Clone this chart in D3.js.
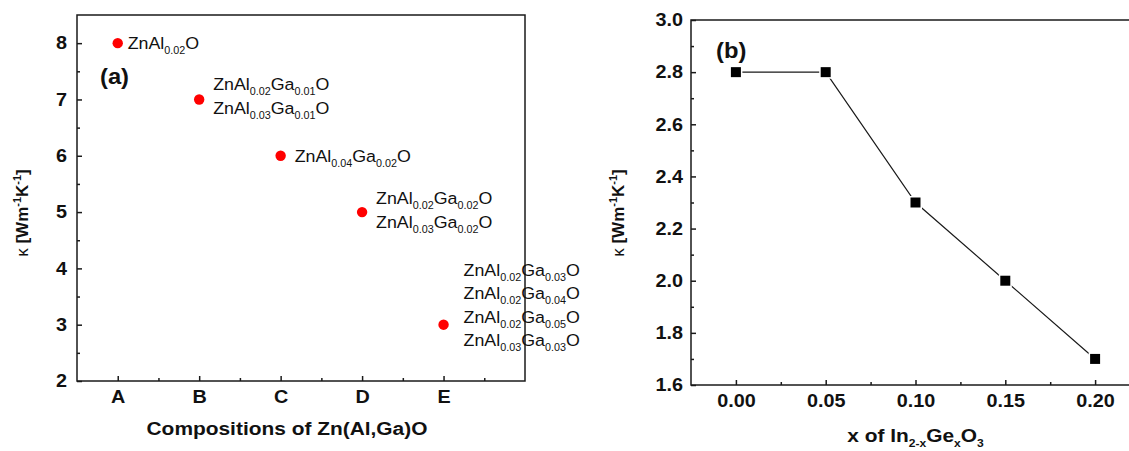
<!DOCTYPE html>
<html>
<head>
<meta charset="utf-8">
<script src="https://cdn.jsdelivr.net/npm/d3@7"></script>
<style>
body { margin: 0; background: #fff; }
text { font-family: "Liberation Sans", Arial, sans-serif; fill: #111; }
/* the source figure is a bit stretched sideways */
.wide-c { transform-box: fill-box; transform-origin: center; transform: scaleX(1.1); }
.wide-l { transform-box: fill-box; transform-origin: left center; transform: scaleX(1.08); }
.wide-r { transform-box: fill-box; transform-origin: right center; transform: scaleX(1.1); }
</style>
</head>
<body>
<div id="chart"></div>
<script>
// ---- panel (a) data ----
let compCats = ["A", "B", "C", "D", "E"];
let compKappa = [8, 7, 6, 5, 3];
// [Al, Ga] subscripts of each composition, one list per category
let compNames = [
    [["0.02", ""]],
    [["0.02", "0.01"], ["0.03", "0.01"]],
    [["0.04", "0.02"]],
    [["0.02", "0.02"], ["0.03", "0.02"]],
    [["0.02", "0.03"], ["0.02", "0.04"], ["0.02", "0.05"], ["0.03", "0.03"]]
];
let kappaTicksA = [2, 3, 4, 5, 6, 7, 8];

// ---- panel (b) data ----
let germX = [0.00, 0.05, 0.10, 0.15, 0.20];
let germKappa = [2.8, 2.8, 2.3, 2.0, 1.7];
let germTicksX = [0.00, 0.05, 0.10, 0.15, 0.20];
let kappaTicksB = [1.6, 1.8, 2.0, 2.2, 2.4, 2.6, 2.8, 3.0];

let svgWidth = 1129;
let svgHeight = 451;

let svg = d3.select("#chart")
    .append("svg")
    .attr("width", svgWidth)
    .attr("height", svgHeight);

let ink = "#1a1a1a";

// style an axis group: no domain line, bold tick labels
function styleAxis(g, cls) {
    g.select(".domain").remove();
    g.attr("color", ink);
    g.selectAll(".tick line").attr("stroke-width", 1.5);
    g.selectAll(".tick text")
        .attr("font-family", "Liberation Sans, Arial, sans-serif")
        .attr("font-size", 18)
        .attr("font-weight", "bold")
        .attr("class", cls);
}

// ================= panel (a) =================
let xA = d3.scaleLinear().domain([0.5, 6]).range([77, 525]);
let yA = d3.scaleLinear().domain([2, 8.5]).range([381, 15]);

// minor ticks
svg.append("g")
    .attr("transform", `translate(${xA.range()[0]},0)`)
    .call(d3.axisLeft(yA).tickValues(d3.range(2.5, 8, 1)).tickSize(-3).tickFormat(""))
    .call(g => styleAxis(g, ""));
svg.append("g")
    .attr("transform", `translate(0,${yA.range()[0]})`)
    .call(d3.axisBottom(xA).tickValues(d3.range(1.5, 6, 1)).tickSize(-3).tickFormat(""))
    .call(g => styleAxis(g, ""));

// major ticks
svg.append("g")
    .attr("transform", `translate(${xA.range()[0]},0)`)
    .call(d3.axisLeft(yA).tickValues(kappaTicksA).tickSize(-5).tickPadding(10).tickFormat(d3.format("d")))
    .call(g => styleAxis(g, "wide-r"));
svg.append("g")
    .attr("transform", `translate(0,${yA.range()[0]})`)
    .call(d3.axisBottom(xA).tickValues(d3.range(1, compCats.length + 1)).tickSize(-5).tickPadding(9)
        .tickFormat(d => compCats[d - 1]))
    .call(g => styleAxis(g, "wide-c"));

// frame
svg.append("rect")
    .attr("x", xA.range()[0]).attr("y", yA.range()[1])
    .attr("width", xA.range()[1] - xA.range()[0])
    .attr("height", yA.range()[0] - yA.range()[1])
    .attr("fill", "none").attr("stroke", ink).attr("stroke-width", 1.5);

// points
svg.selectAll("circle.comp")
    .data(compKappa)
    .enter()
    .append("circle")
    .attr("class", "comp")
    .attr("cx", (d, i) => xA(i + 1))
    .attr("cy", d => yA(d))
    .attr("r", 5.2)
    .attr("fill", "#ff0000");

// composition labels
let labelDx = [10, 14, 14, 14, 20];
let labelFirstDy = [0, -15, 0, -14, -55];
let lineGap = 23.5;

compNames.forEach(function(names, i) {
    names.forEach(function(n, j) {
        let t = svg.append("text")
            .attr("class", "wide-l")
            .attr("x", xA(i + 1) + labelDx[i])
            .attr("y", yA(compKappa[i]) + labelFirstDy[i] + j * lineGap + 6)
            .attr("font-size", 16.5);
        t.append("tspan").text("ZnAl");
        t.append("tspan").attr("font-size", 10).attr("dy", 5).text(n[0]);
        if (n[1] !== "") {
            t.append("tspan").attr("dy", -5).text("Ga");
            t.append("tspan").attr("font-size", 10).attr("dy", 5).text(n[1]);
        }
        t.append("tspan").attr("dy", -5).text("O");
    });
});

svg.append("text")
    .attr("class", "wide-l")
    .attr("x", 100).attr("y", 84)
    .attr("font-size", 22).attr("font-weight", "bold")
    .text("(a)");

// axis titles
svg.append("text")
    .attr("class", "wide-c")
    .attr("x", 287).attr("y", 435)
    .attr("text-anchor", "middle")
    .attr("font-size", 19).attr("font-weight", "bold")
    .text("Compositions of Zn(Al,Ga)O");

function kappaTitle(cx, cy) {
    let t = svg.append("g")
        .attr("transform", `translate(${cx},${cy}) rotate(-90)`)
        .append("text")
        .attr("text-anchor", "middle")
        .attr("dy", "0.35em")
        .attr("font-size", 17).attr("font-weight", "bold");
    t.append("tspan").attr("font-weight", "normal").text("\u03ba ");
    t.append("tspan").text("[Wm");
    t.append("tspan").attr("font-size", 11).attr("dy", -7).text("-1");
    t.append("tspan").attr("dy", 7).text("K");
    t.append("tspan").attr("font-size", 11).attr("dy", -7).text("-1");
    t.append("tspan").attr("dy", 7).text("]");
}
kappaTitle(22, 213);

// ================= panel (b) =================
let xB = d3.scaleLinear().domain([-0.025, 0.225]).range([691, 1140]);
let yB = d3.scaleLinear().domain([1.6, 3.0]).range([385, 20]);

svg.append("g")
    .attr("transform", `translate(${xB.range()[0]},0)`)
    .call(d3.axisLeft(yB).tickValues(d3.range(1.7, 3.0, 0.2)).tickSize(-3).tickFormat(""))
    .call(g => styleAxis(g, ""));
svg.append("g")
    .attr("transform", `translate(0,${yB.range()[0]})`)
    .call(d3.axisBottom(xB).tickValues([0.025, 0.075, 0.125, 0.175]).tickSize(-3).tickFormat(""))
    .call(g => styleAxis(g, ""));

svg.append("g")
    .attr("transform", `translate(${xB.range()[0]},0)`)
    .call(d3.axisLeft(yB).tickValues(kappaTicksB).tickSize(-5).tickPadding(8).tickFormat(d3.format(".1f")))
    .call(g => styleAxis(g, "wide-r"));
svg.append("g")
    .attr("transform", `translate(0,${yB.range()[0]})`)
    .call(d3.axisBottom(xB).tickValues(germTicksX).tickSize(-5).tickPadding(9).tickFormat(d3.format(".2f")))
    .call(g => styleAxis(g, "wide-c"));

svg.append("rect")
    .attr("x", xB.range()[0]).attr("y", yB.range()[1])
    .attr("width", xB.range()[1] - xB.range()[0])
    .attr("height", yB.range()[0] - yB.range()[1])
    .attr("fill", "none").attr("stroke", ink).attr("stroke-width", 1.5);

let germData = germX.map((x, i) => ({x: x, k: germKappa[i]}));

svg.append("path")
    .datum(germData)
    .attr("fill", "none")
    .attr("stroke", ink)
    .attr("stroke-width", 1.2)
    .attr("d", d3.line().x(d => xB(d.x)).y(d => yB(d.k)));

// squares, white rim leaves the small gap seen in the original
svg.selectAll("path.sq")
    .data(germData)
    .enter()
    .append("path")
    .attr("class", "sq")
    .attr("transform", d => `translate(${xB(d.x)},${yB(d.k)})`)
    .attr("d", d3.symbol(d3.symbolSquare, 100))
    .attr("fill", "#000")
    .attr("stroke", "#fff")
    .attr("stroke-width", 3)
    .attr("paint-order", "stroke");

svg.append("text")
    .attr("class", "wide-l")
    .attr("x", 716).attr("y", 58)
    .attr("font-size", 22).attr("font-weight", "bold")
    .text("(b)");

let xt = svg.append("text")
    .attr("class", "wide-c")
    .attr("x", (xB.range()[0] + xB.range()[1]) / 2)
    .attr("y", 442)
    .attr("text-anchor", "middle")
    .attr("font-size", 19).attr("font-weight", "bold");
xt.append("tspan").text("x of In");
xt.append("tspan").attr("font-size", 11).attr("dy", 5).text("2-x");
xt.append("tspan").attr("dy", -5).text("Ge");
xt.append("tspan").attr("font-size", 11).attr("dy", 5).text("x");
xt.append("tspan").attr("dy", -5).text("O");
xt.append("tspan").attr("font-size", 11).attr("dy", 5).text("3");

kappaTitle(618, 213);
</script>
</body>
</html>
